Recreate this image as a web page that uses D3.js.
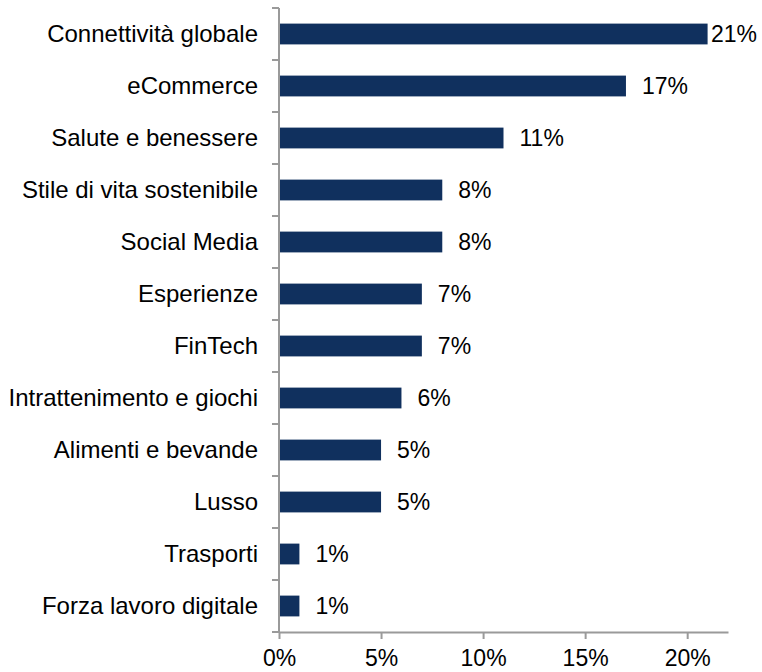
<!DOCTYPE html>
<html>
<head>
<meta charset="utf-8">
<script src="https://cdn.jsdelivr.net/npm/d3@7"></script>
<style>
  html, body { margin: 0; padding: 0; background: #fff; }
  svg { display: block; font-family: "Liberation Sans", Arial, sans-serif; }
</style>
</head>
<body>
<svg id="chart" width="762" height="672"></svg>
<script>
// Categories, top to bottom
const categories = [
  "Connettività globale",
  "eCommerce",
  "Salute e benessere",
  "Stile di vita sostenibile",
  "Social Media",
  "Esperienze",
  "FinTech",
  "Intrattenimento e giochi",
  "Alimenti e bevande",
  "Lusso",
  "Trasporti",
  "Forza lavoro digitale"
];
// Share per category (%)
const values = [21, 17, 11, 8, 8, 7, 7, 6, 5, 5, 1, 1];
const xTicks = [0, 5, 10, 15, 20];

const W = 762, H = 672;
const margin = { top: 8, right: 34, bottom: 40, left: 279 };
const innerW = W - margin.left - margin.right;
const innerH = H - margin.top - margin.bottom;

const svg = d3.select("#chart");
const g = svg.append("g").attr("transform", `translate(${margin.left},${margin.top})`);

const x = d3.scaleLinear().domain([0, 22]).range([0, innerW]);
const y = d3.scaleBand().domain(categories).range([0, innerH]).paddingInner(0.6).paddingOuter(0.3);

const axisColor = "#9a9a9a";
const fontSize = 23;
const catFontSize = 24;

// Bars
g.selectAll("rect.bar")
  .data(categories.map((c, i) => ({ c, v: values[i] })))
  .join("rect")
  .attr("class", "bar")
  .attr("x", 0)
  .attr("y", d => y(d.c))
  .attr("width", d => x(d.v))
  .attr("height", y.bandwidth())
  .attr("fill", "#10305e");

// Value labels
const labels = g.selectAll("text.val")
  .data(categories.map((c, i) => ({ c, v: values[i] })))
  .join("text")
  .attr("class", "val")
  .attr("y", d => y(d.c) + y.bandwidth() / 2)
  .attr("dy", "0.35em")
  .attr("font-size", fontSize)
  .attr("fill", "#000")
  .text(d => d.v + "%");
labels.each(function(d) {
  const w = this.getComputedTextLength();
  const maxX = W - margin.left - 5 - w;
  d3.select(this).attr("x", Math.min(x(d.v) + 16, maxX));
});

// X axis
const xAxis = g.append("g")
  .attr("transform", `translate(0,${innerH})`)
  .call(d3.axisBottom(x).tickValues(xTicks).tickFormat(d => d + "%").tickSize(7).tickSizeOuter(0));
xAxis.select(".domain").attr("stroke", axisColor).attr("stroke-width", 2);
xAxis.selectAll(".tick line").attr("stroke", axisColor).attr("stroke-width", 2);
xAxis.selectAll(".tick text")
  .attr("font-size", fontSize)
  .attr("font-family", "Liberation Sans, Arial, sans-serif")
  .attr("fill", "#000")
  .attr("y", 18);

// Y axis: line plus tick marks on band boundaries
const yAxis = g.append("g");
yAxis.append("line")
  .attr("x1", 0).attr("x2", 0)
  .attr("y1", 0).attr("y2", innerH)
  .attr("stroke", axisColor).attr("stroke-width", 2);
const boundaries = categories.map(c => y(c) - y.step() * y.paddingInner() / 2);
boundaries.push(innerH);
yAxis.selectAll("line.tk")
  .data(boundaries)
  .join("line")
  .attr("class", "tk")
  .attr("x1", -7).attr("x2", 0)
  .attr("y1", d => d).attr("y2", d => d)
  .attr("stroke", axisColor).attr("stroke-width", 2);

// Category labels
g.selectAll("text.cat")
  .data(categories)
  .join("text")
  .attr("class", "cat")
  .attr("x", -21)
  .attr("y", d => y(d) + y.bandwidth() / 2)
  .attr("dy", "0.35em")
  .attr("text-anchor", "end")
  .attr("font-size", catFontSize)
  .attr("fill", "#000")
  .text(d => d);
</script>
</body>
</html>
